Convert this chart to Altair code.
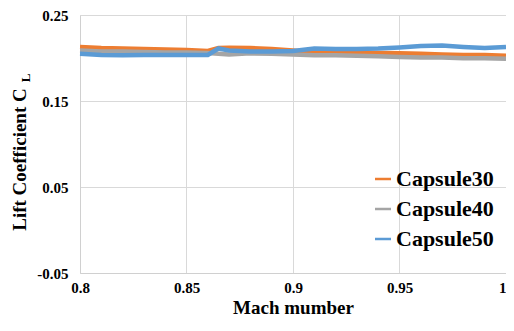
import altair as alt
import pandas as pd

mach = [0.80, 0.81, 0.82, 0.83, 0.84, 0.85, 0.86, 0.865, 0.87, 0.88, 0.89, 0.90,
        0.91, 0.92, 0.93, 0.94, 0.95, 0.96, 0.97, 0.98, 0.99, 1.00]
capsule30 = [0.2129, 0.2117, 0.2111, 0.2106, 0.2100, 0.2094, 0.2082, 0.2115, 0.2118, 0.2115, 0.2106, 0.2088,
             0.2065, 0.2059, 0.2059, 0.2059, 0.2054, 0.2048, 0.2042, 0.2036, 0.2036, 0.2025]
capsule40 = [0.2088, 0.2077, 0.2077, 0.2071, 0.2065, 0.2065, 0.2059, 0.2050, 0.2042, 0.2054, 0.2048, 0.2042,
             0.2031, 0.2031, 0.2025, 0.2019, 0.2013, 0.2007, 0.2007, 0.1996, 0.1996, 0.1990]
capsule50 = [0.2048, 0.2036, 0.2031, 0.2036, 0.2036, 0.2036, 0.2036, 0.2111, 0.2088, 0.2077, 0.2077, 0.2082,
             0.2111, 0.2106, 0.2106, 0.2111, 0.2123, 0.2140, 0.2146, 0.2129, 0.2117, 0.2129]
series_names = ["Capsule30", "Capsule40", "Capsule50"]
series_colors = ["#ED7D31", "#A5A5A5", "#5B9BD5"]
x_ticks = [0.8, 0.85, 0.9, 0.95, 1.0]
y_ticks = [-0.05, 0.05, 0.15, 0.25]

rows = []
for name, vals in zip(series_names, [capsule30, capsule40, capsule50]):
    for m, v in zip(mach, vals):
        rows.append({"Mach": m, "CL": v, "Series": name})
df = pd.DataFrame(rows)

FONT = "Liberation Serif"

lines = alt.Chart(df).mark_line(strokeWidth=4.5).encode(
    x=alt.X("Mach:Q",
            scale=alt.Scale(domain=[0.8, 1.0], nice=False, zero=False),
            axis=alt.Axis(values=x_ticks, format="~g", title="Mach mumber",
                          ticks=False, labelPadding=7,
                          labelAlign=alt.expr("datum.value >= 1 ? 'right' : 'center'"),
                          labelFont=FONT, labelFontSize=15, labelFontWeight="bold",
                          labelColor="black", labelFlush=False,
                          titleFont=FONT, titleFontSize=19, titleFontWeight="bold",
                          titleColor="black", titleBaseline="alphabetic", titleY=40,
                          gridColor="#d9d9d9", domainColor="#d0d0d0")),
    y=alt.Y("CL:Q",
            scale=alt.Scale(domain=[-0.05, 0.25], nice=False, zero=False),
            axis=alt.Axis(values=y_ticks, format=".2f", title="Lift Coefficient C",
                          labelExpr="replace(datum.label, '\u2212', '-')",
                          ticks=False, labelPadding=12,
                          labelFont=FONT, labelFontSize=15, labelFontWeight="bold",
                          labelColor="black",
                          titleFont=FONT, titleFontSize=19, titleFontWeight="bold",
                          titleColor="black", titleAngle=270, titleBaseline="alphabetic",
                          titleX=-55, titleY=144,
                          gridColor="#d9d9d9", domainColor="#d0d0d0")),
    color=alt.Color("Series:N",
                    scale=alt.Scale(domain=series_names, range=series_colors),
                    legend=alt.Legend(title=None, orient="none", legendX=292, legendY=153,
                                      symbolType="stroke", symbolStrokeWidth=2.5,
                                      symbolSize=256, labelOffset=2, rowPadding=8,
                                      labelFont=FONT, labelFontSize=22,
                                      labelFontWeight="bold", labelColor="black")),
)

sub = alt.Chart(pd.DataFrame({"t": ["L"]})).mark_text(
    angle=270, font=FONT, fontSize=13, fontWeight="bold", color="black",
    align="center", baseline="alphabetic"
).encode(text="t:N", x=alt.value(-50), y=alt.value(63))

chart = alt.layer(lines, sub).properties(
    width=426, height=258,
    autosize=alt.AutoSizeParams(type="none"),
    padding={"left": 72, "top": 7, "right": 0, "bottom": 45},
).configure_view(strokeWidth=0)

chart.save("out.html", embed_options={"renderer": "svg", "actions": False})
